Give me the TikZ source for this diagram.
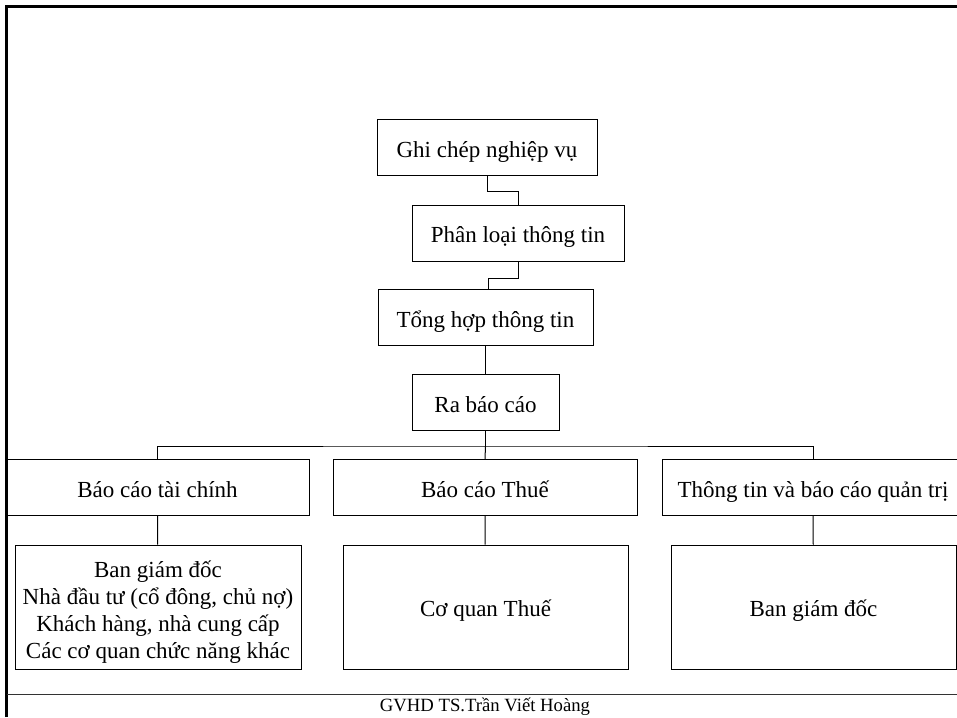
\documentclass[tikz,border=0pt]{standalone}
\usepackage{fontspec}
\setmainfont{Liberation Serif}
\usetikzlibrary{positioning}

\begin{document}
\begin{tikzpicture}[x=1pt,y=-1pt,line width=1pt,
        box/.style={draw,inner sep=0pt,align=center,
          font=\fontsize{23}{27}\selectfont},
        step1/.style={box,minimum height=56pt,text height=19pt,text depth=0pt},
        reader/.style={box,minimum height=124pt,minimum width=285pt}]

      \useasboundingbox (0,0) rectangle (957,717);
      \clip (0,0) rectangle (957,717);

      \node[step1,minimum width=220pt] (ghi)   at (487,147.5)   {Ghi chép nghiệp vụ};
      \node[step1,minimum width=212pt] (phan)  at (518,233)     {Phân loại thông tin};
      \node[step1,minimum width=215pt] (tong)  at (485.5,317.5) {Tổng hợp thông tin};
      \node[step1,minimum width=147pt] (ra)    at (485.5,402.5) {Ra báo cáo};

      \node[step1,minimum width=303pt] (taichinh) at (157.5,487.5) {Báo cáo tài chính};
      \node[step1,minimum width=304pt] (thue)     at (485,487.5)   {Báo cáo Thuế};
      \node[step1,minimum width=302pt] (quantri)  at (813,487.5)   {Thông tin và báo cáo quản trị};

      \node[reader,minimum width=286pt,text height=10pt,text depth=70pt] (nguoi1) at (158,607)
        {\parbox[t]{284pt}{\centering\fontsize{23}{27}\selectfont
          Ban giám đốc\\Nhà đầu tư (cổ đông, chủ nợ)\\Khách hàng, nhà cung cấp\\Các cơ quan chức năng khác}};
      \node[reader,text height=19pt,text depth=0pt] (nguoi2) at (485.5,607) {Cơ quan Thuế};
      \node[reader,text height=19pt,text depth=0pt] (nguoi3) at (813.5,607) {Ban giám đốc};

      \draw (ghi.south) -- ++(0,15) -| (phan.north);
      \draw (phan.south) -- ++(0,17) -| ([xshift=2.5pt]tong.north);
      \draw (tong) -- (ra);
      \draw (ra.south) -- ++(0,15) coordinate (bus);
      \draw (taichinh.north) |- (bus) -| (quantri.north);
      \draw (bus) -- (thue.north);
      \draw (taichinh) -- (nguoi1);
      \draw (thue) -- (nguoi2);
      \draw (quantri) -- (nguoi3);

      % page frame and footer
      \draw[line width=3pt] (6.5,717) -- (6.5,6.5) -- (957,6.5);
      \draw[black!80] (6.5,694) -- (957,694);
      \node[anchor=base,inner sep=0pt,font=\fontsize{18.7}{22}\selectfont] (gvhd) at (485,711.5) {GVHD TS.Trần Viết Hoàng};

    \end{tikzpicture}
\end{document}
